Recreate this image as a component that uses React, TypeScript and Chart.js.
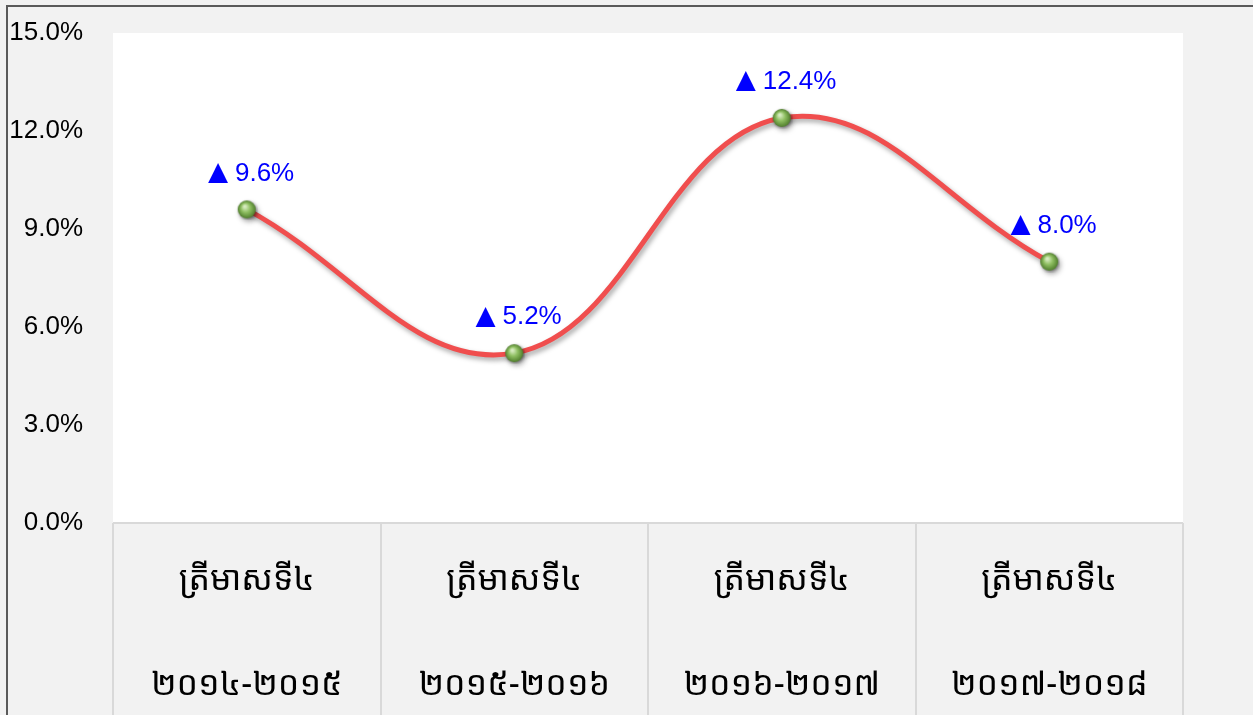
import React, { useEffect, useRef } from "react";
import { Chart, registerables } from "chart.js";

Chart.register(...registerables);

const categories: string[][] = [
  ["ត្រីមាសទី៤", "២០១៤-២០១៥"],
  ["ត្រីមាសទី៤", "២០១៥-២០១៦"],
  ["ត្រីមាសទី៤", "២០១៦-២០១៧"],
  ["ត្រីមាសទី៤", "២០១៧-២០១៨"],
];
const growth: number[] = [9.6, 5.2, 12.4, 8.0];
const yMin = 0;
const yMax = 15;
const yStep = 3;

const NUM_FONT = "'Liberation Sans Narrow', 'Arial Narrow', 'Liberation Sans', Arial, sans-serif";
const KH_FONT = "'Khmer OS', 'Noto Sans Khmer', 'Khmer OS System', 'Noto Sans', sans-serif";

function makeSphere(): HTMLCanvasElement {
  const c = document.createElement("canvas");
  c.width = 22;
  c.height = 22;
  const g = c.getContext("2d")!;
  g.shadowColor = "rgba(0,0,0,0.35)";
  g.shadowBlur = 3;
  g.shadowOffsetX = 1;
  g.shadowOffsetY = 1;
  const grad = g.createRadialGradient(9, 8, 1, 11, 11, 9);
  grad.addColorStop(0, "#d6ebbf");
  grad.addColorStop(0.45, "#8fbf62");
  grad.addColorStop(1, "#4f7d2c");
  g.fillStyle = grad;
  g.beginPath();
  g.arc(11, 11, 9, 0, Math.PI * 2);
  g.fill();
  return c;
}

const framePlugin = {
  id: "frame",
  beforeDraw(chart: any) {
    const { ctx, chartArea, width, height } = chart;
    ctx.save();
    ctx.fillStyle = "#f2f2f2";
    ctx.fillRect(0, 0, width, height);
    ctx.fillStyle = "#ffffff";
    ctx.fillRect(chartArea.left, chartArea.top, chartArea.right - chartArea.left, chartArea.bottom - chartArea.top);
    ctx.strokeStyle = "#5a5a5a";
    ctx.lineWidth = 2;
    ctx.strokeRect(7, 6, width + 20, height + 20);
    const xs = chart.scales.x;
    ctx.strokeStyle = "#d9d9d9";
    ctx.lineWidth = 2;
    ctx.beginPath();
    ctx.moveTo(chartArea.left, chartArea.bottom);
    ctx.lineTo(chartArea.right, chartArea.bottom);
    for (let i = 0; i <= categories.length; i++) {
      const x = Math.round(xs.getPixelForValue(i - 0.5));
      ctx.moveTo(x, chartArea.bottom);
      ctx.lineTo(x, height);
    }
    ctx.stroke();
    ctx.restore();
  },
  beforeDatasetsDraw(chart: any) {
    const ctx = chart.ctx;
    ctx.save();
    ctx.shadowColor = "rgba(0,0,0,0.35)";
    ctx.shadowBlur = 5;
    ctx.shadowOffsetX = 2;
    ctx.shadowOffsetY = 3;
  },
  afterDatasetsDraw(chart: any) {
    const ctx = chart.ctx;
    ctx.restore();
    const meta = chart.getDatasetMeta(0);
    ctx.save();
    ctx.fillStyle = "#0000ff";
    ctx.textBaseline = "middle";
    meta.data.forEach((pt: any, i: number) => {
      const tri = "▲";
      const txt = growth[i].toFixed(1) + "%";
      ctx.font = `34px ${NUM_FONT}`;
      const wTri = ctx.measureText(tri).width;
      ctx.font = `26px ${NUM_FONT}`;
      const wTxt = ctx.measureText(txt).width;
      const total = wTri + wTxt;
      const x0 = pt.x + 1 - total / 2;
      const y = pt.y - 36;
      ctx.textAlign = "left";
      ctx.font = `34px ${NUM_FONT}`;
      ctx.fillText(tri, x0, y);
      ctx.font = `26px ${NUM_FONT}`;
      ctx.fillText(txt, x0 + wTri, y);
    });
    ctx.restore();
  },
};

export default function App() {
  const ref = useRef<HTMLCanvasElement | null>(null);
  useEffect(() => {
    if (!ref.current) return;
    const sphere = makeSphere();
    const chart = new Chart(ref.current, {
      type: "line",
      data: {
        labels: categories,
        datasets: [
          {
            data: growth,
            borderColor: "#f04e4e",
            borderWidth: 5,
            tension: 0.4,
            pointStyle: sphere as any,
            pointRadius: 9,
            pointHoverRadius: 9,
            fill: false,
          },
        ],
      },
      options: {
        animation: false,
        responsive: false,
        maintainAspectRatio: false,
        devicePixelRatio: 1,
        layout: { padding: { top: 33, right: 70, bottom: 0, left: 0 } },
        plugins: { legend: { display: false }, tooltip: { enabled: false } },
        scales: {
          x: {
            offset: true,
            grid: { display: false, drawTicks: false },
            border: { display: false },
            ticks: {
              padding: 5,
              color: "#000000",
              maxRotation: 0,
              autoSkip: false,
              font: { family: KH_FONT, size: 34, lineHeight: "105px" },
            },
            afterFit(scale: any) {
              scale.height = 192;
            },
          },
          y: {
            min: yMin,
            max: yMax,
            grid: { display: false, drawTicks: false },
            border: { display: false },
            ticks: {
              stepSize: yStep,
              padding: 30,
              color: "#000000",
              font: { family: NUM_FONT, size: 26 },
              callback: (v: any) => Number(v).toFixed(1) + "%",
            },
            afterFit(scale: any) {
              scale.width = 113;
              scale.paddingTop = 0;
              scale.paddingBottom = 0;
            },
          },
        },
      },
      plugins: [framePlugin],
    });
    return () => chart.destroy();
  }, []);
  return (
    <div style={{ position: "absolute", left: 0, top: 0, width: 1253, height: 715 }}>
      <canvas ref={ref} width={1253} height={715} style={{ width: 1253, height: 715, display: "block" }} />
    </div>
  );
}
